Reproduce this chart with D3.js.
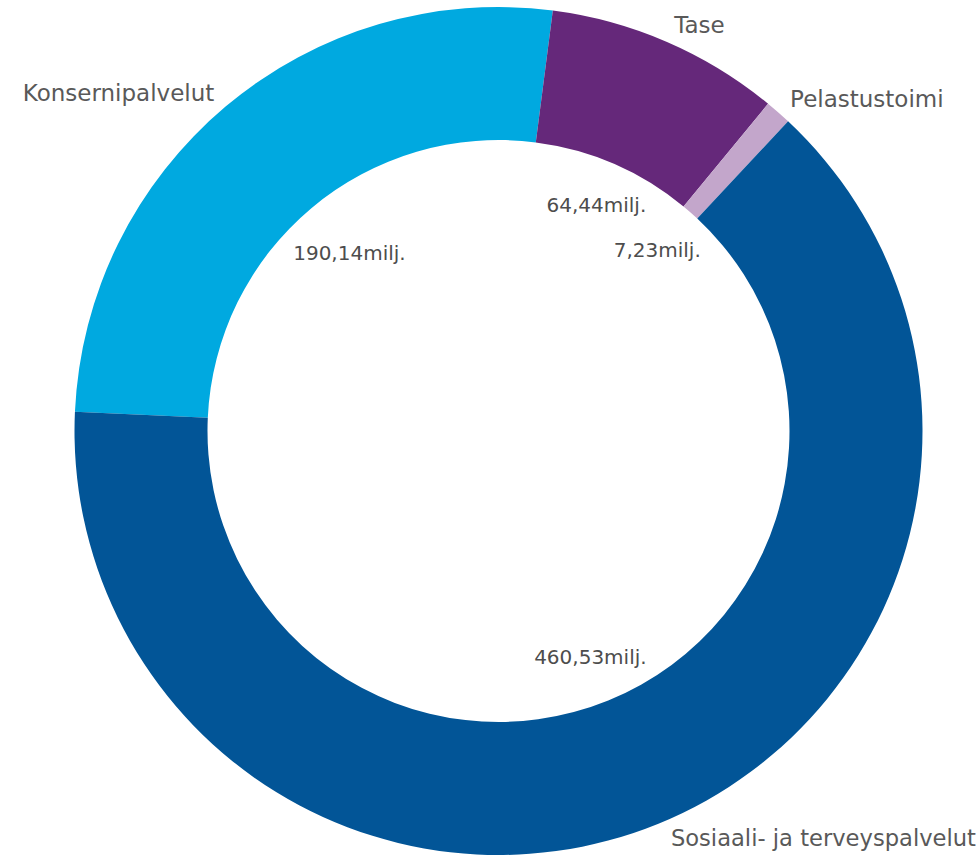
<!DOCTYPE html>
<html>
<head>
<meta charset="utf-8">
<script src="https://cdn.jsdelivr.net/npm/d3@7"></script>
<style>
  html, body { margin: 0; padding: 0; background: #fff; }
  svg { display: block; }
</style>
</head>
<body>
<svg id="chart" width="980" height="855"></svg>
<script>
const categories = ["Konsernipalvelut", "Tase", "Pelastustoimi", "Sosiaali- ja terveyspalvelut"];
const values = [190.14, 64.44, 7.23, 460.53];
const valueLabels = ["190,14milj.", "64,44milj.", "7,23milj.", "460,53milj."];
const colors = ["#00a9e0", "#65287a", "#c3a6cb", "#025597"];

const W = 980, H = 855;
const cx = 498.5, cy = 431;
const outerR = 424, innerR = 291;
const startDeg = -87.4;

const svg = d3.select("#chart");
const g = svg.append("g").attr("transform", `translate(${cx},${cy})`);

const data = categories.map((c, i) => ({ cat: c, value: values[i], label: valueLabels[i], color: colors[i] }));

const pie = d3.pie()
  .value(d => d.value)
  .sort(null)
  .startAngle(startDeg * Math.PI / 180)
  .endAngle(startDeg * Math.PI / 180 + 2 * Math.PI);

const arc = d3.arc().innerRadius(innerR).outerRadius(outerR);
const arcs = pie(data);

g.selectAll("path.slice")
  .data(arcs)
  .join("path")
  .attr("class", "slice")
  .attr("d", arc)
  .attr("fill", d => d.data.color);

// outer category labels
const labelR = outerR + 18;
g.selectAll("text.cat")
  .data(arcs)
  .join("text")
  .attr("class", "cat")
  .attr("dominant-baseline", "central")
  .attr("font-family", "DejaVu Sans, sans-serif")
  .attr("font-size", 23)
  .attr("fill", "#595959")
  .text(d => d.data.cat)
  .each(function(d) {
    const a = (d.startAngle + d.endAngle) / 2;
    let x = labelR * Math.sin(a);
    let y = -labelR * Math.cos(a);
    const maxY = H - cy - 17, minY = -cy + 22;
    if (y > maxY || y < minY) {
      y = Math.max(minY, Math.min(maxY, y));
      x = Math.sign(x) * Math.sqrt(Math.max(0, labelR * labelR - y * y));
    }
    const sel = d3.select(this)
      .attr("x", x)
      .attr("y", y)
      .attr("text-anchor", x >= 0 ? "start" : "end");
    // keep the label inside the picture
    const w = this.getComputedTextLength();
    const room = x >= 0 ? (W - 4 - cx) - x : x + cx - 4;
    if (w > room) {
      sel.attr("textLength", room).attr("lengthAdjust", "spacingAndGlyphs");
    }
  });

// inner value labels: farthest corner of the text box sits at a fixed distance
const cornerR = innerR - 14;
g.selectAll("text.val")
  .data(arcs)
  .join("text")
  .attr("class", "val")
  .attr("text-anchor", "middle")
  .attr("dominant-baseline", "central")
  .attr("font-family", "DejaVu Sans, sans-serif")
  .attr("font-size", 20)
  .attr("fill", "#4d4d4d")
  .text(d => d.data.label)
  .each(function(d) {
    const a = (d.startAngle + d.endAngle) / 2;
    const bb = this.getBBox();
    const hw = bb.width / 2, hh = bb.height / 2 * 0.7;
    const s = Math.sin(a), c = -Math.cos(a);
    let lo = 0, hi = cornerR;
    for (let k = 0; k < 40; k++) {
      const r = (lo + hi) / 2;
      const px = Math.abs(r * s) + hw, py = Math.abs(r * c) + hh;
      if (Math.hypot(px, py) > cornerR) hi = r; else lo = r;
    }
    d3.select(this).attr("x", lo * s).attr("y", lo * c);
  });
</script>
</body>
</html>
